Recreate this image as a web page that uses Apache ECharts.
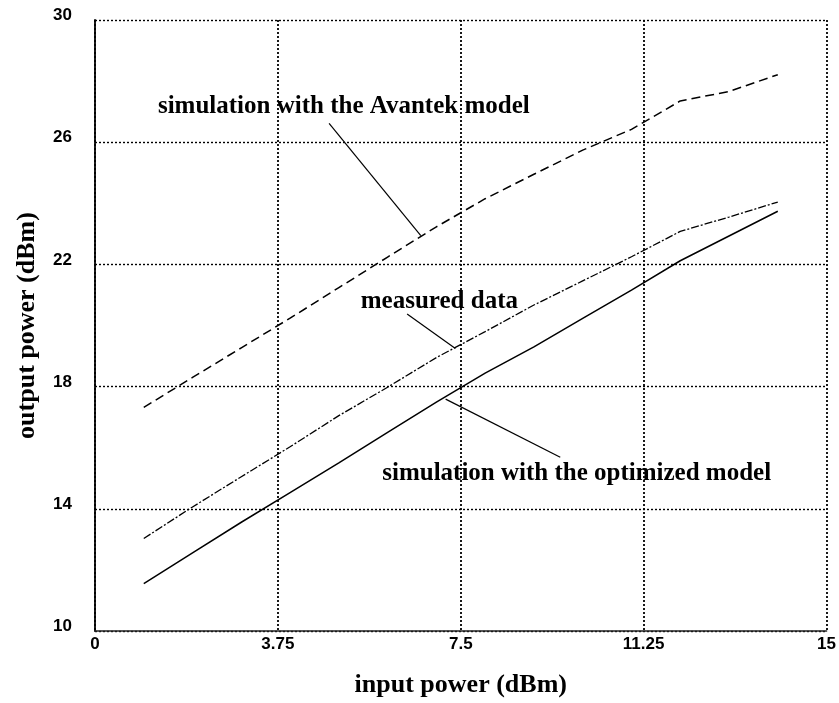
<!DOCTYPE html>
<html>
<head>
<meta charset="utf-8">
<script src="https://cdn.jsdelivr.net/npm/echarts@6.0.0/dist/echarts.min.js"></script>
<style>
    html, body {margin: 0; padding: 0; background: #fff;}
    #chart {width: 839px; height: 703px;}
</style>
</head>
<body>
<div id="chart"></div>
<script>
// input power (dBm)
const inputPower = [1, 2, 3, 4, 5, 6, 7, 8, 9, 10, 11, 12, 13, 14];
// output power (dBm) of each curve
const avantekModel = [17.32, 18.3, 19.27, 20.24, 21.24, 22.24, 23.23, 24.15, 24.95, 25.74, 26.42, 27.35, 27.66, 28.21];
const measuredData = [13.03, 14.06, 15.05, 16.03, 17.05, 17.98, 18.95, 19.8, 20.67, 21.46, 22.25, 23.08, 23.55, 24.04];
const optimizedModel = [11.55, 12.56, 13.56, 14.53, 15.5, 16.5, 17.49, 18.44, 19.3, 20.23, 21.16, 22.12, 22.93, 23.74];

// axis ranges / ticks
const xRange = [0, 15], xStep = 3.75;
const yRange = [10, 30], yStep = 4;

// annotation texts (anchored in data coordinates) and their leader lines
const noteTexts = ['simulation with the Avantek model', 'measured data', 'simulation with the optimized model'];
const noteAnchors = [[1.29, 27.18], [5.45, 20.77], [5.89, 15.14]];
const leaderLines = [
    [[4.80, 26.62], [6.68, 22.94]],
    [[6.40, 20.38], [7.39, 19.25]],
    [[7.19, 17.59], [9.54, 15.69]]
];

const serif = '"Liberation Serif", "DejaVu Serif", serif';
const sans = '"Liberation Sans", Arial, sans-serif';

function pairs(ys) {
    return inputPower.map(function (x, i) {
        return [x, ys[i]];
    });
}

let chart = echarts.init(document.getElementById('chart'), null, {renderer: 'canvas'});

let gridLine = function (w) {
    return {show: true, lineStyle: {color: '#000', width: w, type: [2, 2]}};
};

chart.setOption({
    animation: false,
    backgroundColor: '#fff',
    grid: {left: 95, top: 20, right: 10, bottom: 71, containLabel: false},
    xAxis: {
        type: 'value',
        min: xRange[0], max: xRange[1], interval: xStep,
        name: 'input power (dBm)',
        nameLocation: 'middle',
        nameGap: 41,
        nameTextStyle: {fontFamily: serif, fontWeight: 'bold', fontSize: 26, color: '#000'},
        axisLine: {show: true, lineStyle: {color: '#222', width: 1.5}},
        axisTick: {show: false},
        axisLabel: {margin: 5, fontFamily: sans, fontWeight: 'bold', fontSize: 17, color: '#000'},
        splitLine: gridLine(1.8)
    },
    yAxis: {
        type: 'value',
        min: yRange[0], max: yRange[1], interval: yStep,
        name: 'output power (dBm)',
        nameLocation: 'middle',
        nameGap: 55,
        nameTextStyle: {fontFamily: serif, fontWeight: 'bold', fontSize: 26, color: '#000'},
        axisLine: {show: true, lineStyle: {color: '#000', width: 1.8}},
        axisTick: {show: false},
        // labels sit a little above their grid line
        axisLabel: {
            margin: 23, verticalAlign: 'bottom', lineHeight: 9,
            fontFamily: sans, fontWeight: 'bold', fontSize: 17, color: '#000'
        },
        splitLine: gridLine(1.4)
    },
    series: [
        {
            name: 'avantek',
            type: 'line',
            data: pairs(avantekModel),
            showSymbol: false,
            lineStyle: {color: '#000', width: 1.5, type: [9, 5]},
            // leader lines of the three notes
            markLine: {
                silent: true,
                symbol: 'none',
                label: {show: false},
                lineStyle: {color: '#000', width: 1.2, type: 'solid'},
                data: leaderLines.map(function (l) {
                    return [{coord: l[0]}, {coord: l[1]}];
                })
            }
        },
        {
            name: 'measured',
            type: 'line',
            data: pairs(measuredData),
            showSymbol: false,
            lineStyle: {color: '#000', width: 1.3, type: [8, 2, 2, 2]}
        },
        {
            name: 'optimized',
            type: 'line',
            data: pairs(optimizedModel),
            showSymbol: false,
            lineStyle: {color: '#000', width: 1.5, type: 'solid'}
        }
    ]
});

// place the notes once the scales exist
chart.setOption({
    graphic: noteTexts.map(function (t, i) {
        let p = chart.convertToPixel({gridIndex: 0}, noteAnchors[i]);
        return {
            type: 'text',
            x: p[0],
            y: p[1],
            silent: true,
            style: {
                text: t,
                fill: '#000',
                font: 'bold 25px ' + serif,
                textAlign: 'left',
                textVerticalAlign: 'middle'
            }
        };
    })
});
</script>
</body>
</html>
